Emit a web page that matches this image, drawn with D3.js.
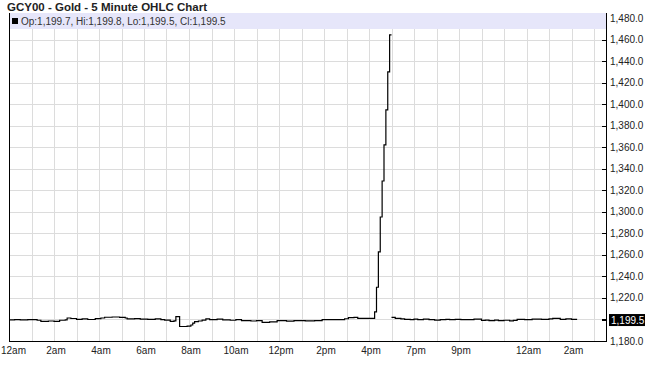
<!DOCTYPE html>
<html><head><meta charset="utf-8">
<script src="https://cdn.jsdelivr.net/npm/d3@7"></script>
<style>
html,body{margin:0;padding:0;background:#fff;}
svg{display:block;font-family:"Liberation Sans",Arial,sans-serif;}
</style></head>
<body><svg id="c" width="645" height="378"></svg>
<script>
// ---- data (minutes from chart start 12am; 5pm-6pm closed) ----
const title = "GCY00 - Gold - 5 Minute OHLC Chart";
const legendText = "Op:1,199.7, Hi:1,199.8, Lo:1,199.5, Cl:1,199.5";
const session1Times = [0,15,30,50,75,85,105,120,135,150,155,165,180,195,210,230,245,255,275,295,310,315,335,350,370,390,405,415,430,440,445,455,475,485,490,495,505,515,525,535,555,570,590,605,620,645,660,675,695,715,740,760,790,815,835,870,895,905,920,930,960,975,980,985,990,995,1000,1005,1010,1015,1020];
const session1Values = [1199.6,1199.9,1199.7,1199.9,1199.3,1198.3,1198.6,1198.3,1199.3,1199.6,1201.4,1200.9,1200.2,1200.5,1200.0,1200.8,1201.4,1202.1,1202.3,1202.0,1201.4,1200.5,1200.8,1200.4,1200.2,1200.5,1199.8,1199.5,1198.3,1198.8,1202.6,1193.5,1193.8,1194.9,1196.7,1198.0,1198.6,1199.5,1200.5,1199.8,1200.3,1199.6,1199.3,1199.9,1199.0,1198.6,1199.0,1197.4,1197.8,1198.9,1198.5,1198.9,1198.7,1199.0,1199.8,1199.9,1200.7,1201.7,1201.9,1201.1,1201.1,1207.0,1230.0,1262.8,1295.3,1328.8,1362.3,1394.9,1430.2,1464.7,1464.7];
const session2Times = [1080,1090,1105,1115,1130,1140,1150,1165,1180,1195,1210,1225,1235,1250,1265,1285,1300,1320,1330,1340,1355,1365,1380,1395,1405,1415,1435,1455,1480,1500,1510,1530,1545,1560,1575];
const session2Values = [1202.0,1201.1,1200.6,1200.2,1199.8,1200.3,1199.9,1200.3,1199.8,1199.5,1199.8,1200.2,1199.8,1200.2,1199.8,1199.8,1200.3,1199.1,1199.5,1198.9,1199.4,1198.9,1199.3,1198.7,1199.1,1200.2,1199.9,1200.3,1200.2,1200.5,1201.1,1200.2,1200.5,1200.2,1200.2];
const xTickTimes = [0,120,240,360,480,600,720,840,960,1140,1260,1440,1560];
const xTickLabels = ["12am","2am","4am","6am","8am","10am","12pm","2pm","4pm","7pm","9pm","12am","2am"];
const xGridTimes = [60,120,180,240,300,360,420,480,540,600,660,720,780,840,900,960,1020,1140,1200,1260,1320,1380,1440,1500,1560,1620];
const yTickValues = [1480,1460,1440,1420,1400,1380,1360,1340,1320,1300,1280,1260,1240,1220,1180];
const yTickLabels = ["1,480.0","1,460.0","1,440.0","1,420.0","1,400.0","1,380.0","1,360.0","1,340.0","1,320.0","1,300.0","1,280.0","1,260.0","1,240.0","1,220.0","1,180.0"];
const yGridValues = [1200,1220,1240,1260,1280,1300,1320,1340,1360,1380,1400,1420,1440,1460];
const lastClose = 1199.5;
const lastCloseLabel = "1,199.5";

// ---- layout ----
const L = 9, R = 606, T = 13, B = 341;
const svg = d3.select("#c");
const x = d3.scaleLinear().domain([0,1020,1080,1652]).range([L,391.5,391.5,R]);
const y = d3.scaleLinear().domain([1180,1485]).range([B,T]);

// header band
svg.append("rect").attr("x",L).attr("y",T).attr("width",R-L).attr("height",16)
  .attr("fill","#e6e6fa");

// grid
const g = svg.append("g").attr("shape-rendering","crispEdges");
g.selectAll(".vg").data(xGridTimes).join("line")
  .attr("x1",d=>Math.round(x(d))+0.5).attr("x2",d=>Math.round(x(d))+0.5)
  .attr("y1",T+16).attr("y2",B).attr("stroke","#dcdcdc");
g.selectAll(".hg").data(yGridValues).join("line")
  .attr("x1",L).attr("x2",R).attr("y1",d=>Math.round(y(d))+0.5).attr("y2",d=>Math.round(y(d))+0.5)
  .attr("stroke","#dcdcdc");

// price line
const line = d3.line().x(d=>x(d[0])).y(d=>y(d[1])).curve(d3.curveStepAfter);
const s1 = session1Times.map((t,i)=>[t,session1Values[i]]);
const s2 = session2Times.map((t,i)=>[t,session2Values[i]]);
[s1,s2].forEach(s=>{
  svg.append("path").attr("d",line(s)).attr("fill","none").attr("stroke","#000")
    .attr("stroke-width",1.2);
});

// frame
const f = svg.append("g").attr("shape-rendering","crispEdges");
f.append("line").attr("x1",L+0.5).attr("x2",L+0.5).attr("y1",T).attr("y2",B+0.5).attr("stroke","#000");
f.append("line").attr("x1",L).attr("x2",R+0.5).attr("y1",B+0.5).attr("y2",B+0.5).attr("stroke","#000");
f.append("line").attr("x1",R+0.5).attr("x2",R+0.5).attr("y1",T).attr("y2",B+0.5).attr("stroke","#000");

// right axis ticks
f.selectAll(".yt").data(yGridValues.concat([lastClose])).join("line")
  .attr("x1",R-4).attr("x2",R).attr("y1",d=>Math.round(y(d))+0.5).attr("y2",d=>Math.round(y(d))+0.5)
  .attr("stroke","#000");
svg.selectAll(".yl").data(yTickValues).join("text")
  .attr("x",R+4).attr("y",(d,i)=>y(d)).attr("dy","0.35em")
  .attr("font-size",10).attr("fill","#222").text((d,i)=>yTickLabels[i]);

// last close marker
svg.append("rect").attr("x",R+3).attr("y",y(lastClose)-6).attr("width",645-R-3).attr("height",12).attr("fill","#000");
svg.append("text").attr("x",R+5).attr("y",y(lastClose)).attr("dy","0.35em")
  .attr("font-size",10).attr("fill","#fff").text(lastCloseLabel);

// x labels
svg.selectAll(".xl").data(xTickTimes).join("text")
  .attr("x",(d,i)=>i===0?1:x(d)+2).attr("y",B+13)
  .attr("text-anchor",(d,i)=>i===0?"start":"middle")
  .attr("font-size",10).attr("fill","#222").text((d,i)=>xTickLabels[i]);

// title
svg.append("text").attr("x",7).attr("y",11).attr("font-size",11.5).attr("font-weight","bold")
  .attr("fill","#222").text(title);

// legend in band
svg.append("rect").attr("x",12).attr("y",18).attr("width",6).attr("height",6).attr("fill","#000");
svg.append("text").attr("x",21).attr("y",25).attr("font-size",10).attr("fill","#333").text(legendText);
</script></body></html>
